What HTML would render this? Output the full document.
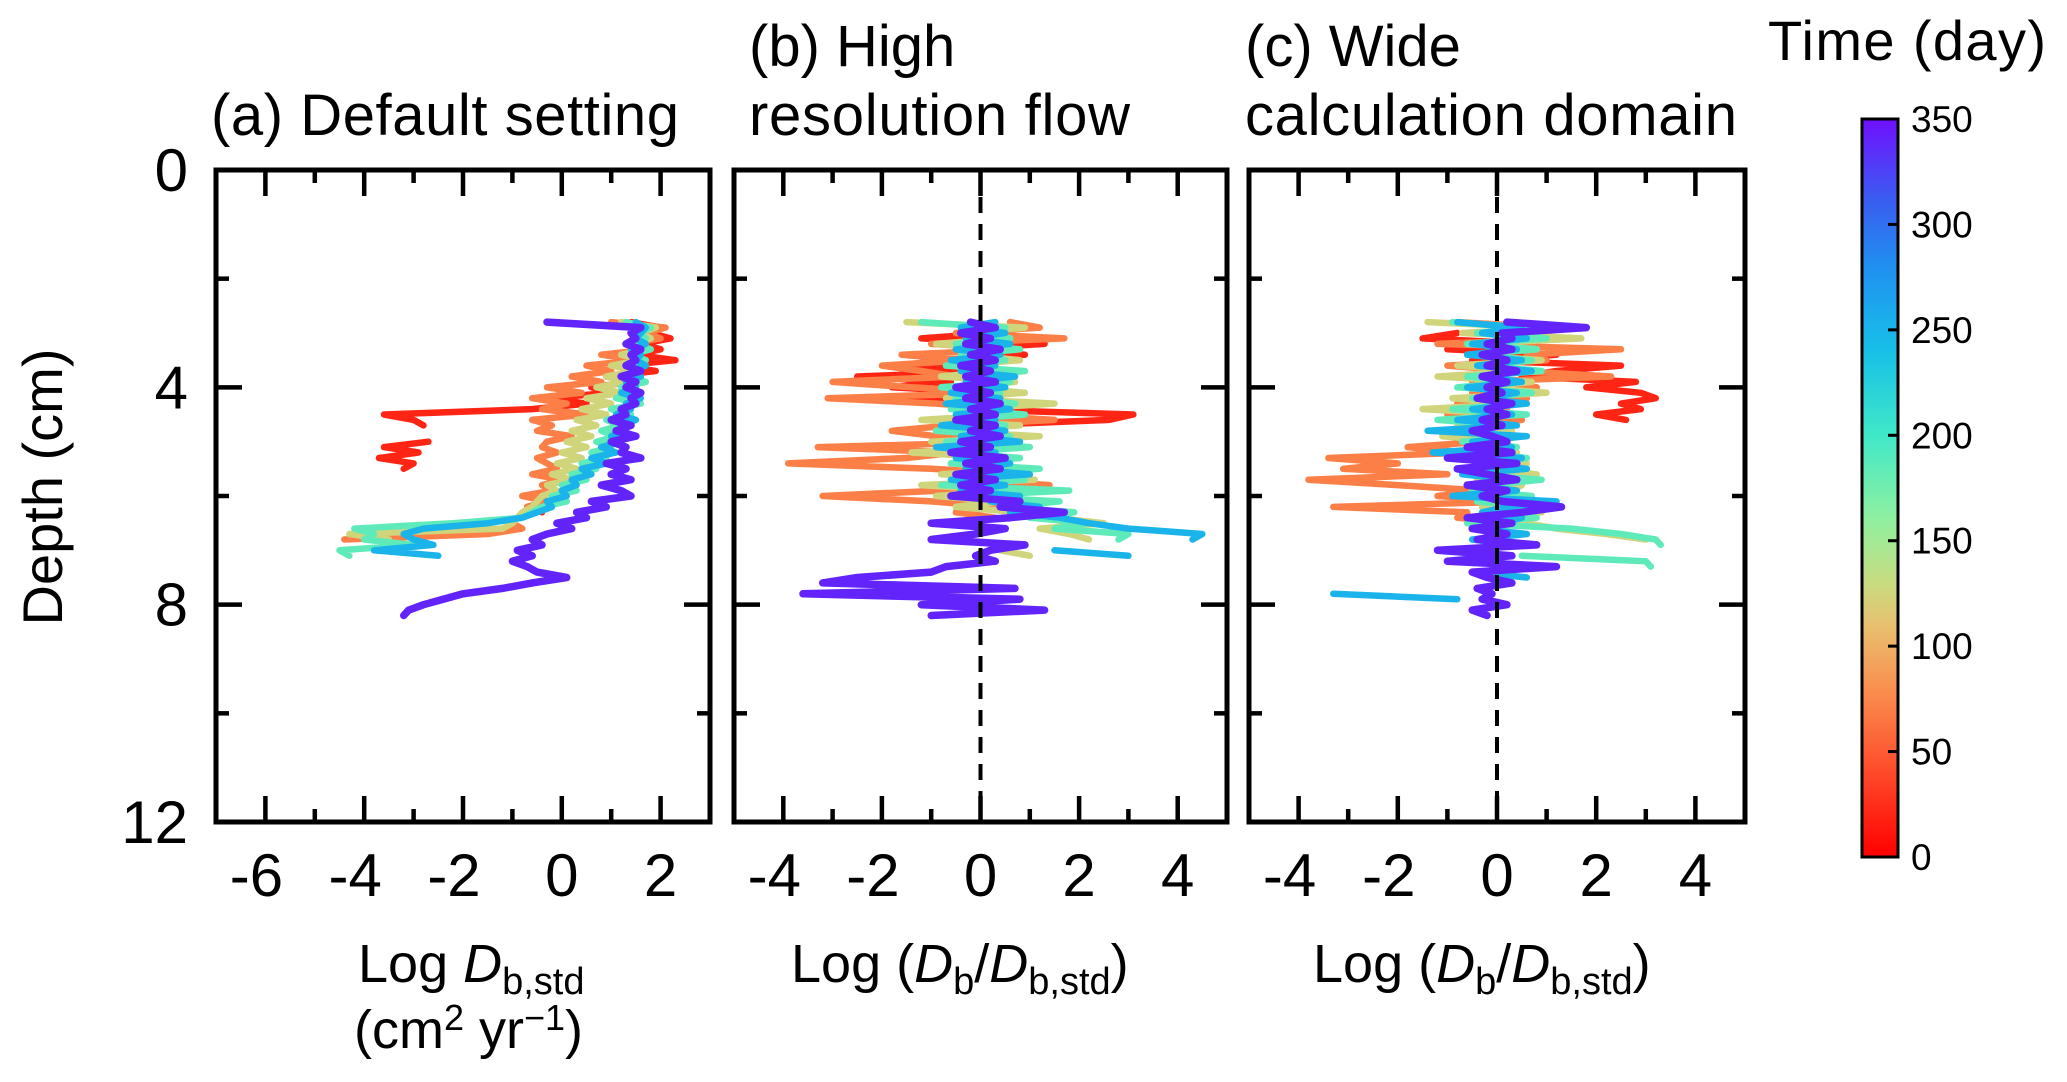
<!DOCTYPE html>
<html><head><meta charset="utf-8"><style>
body{margin:0;background:#fff;}
svg{display:block;font-family:"Liberation Sans",Arial,sans-serif;}
</style></head><body>
<svg id="fig" width="2067" height="1082" viewBox="0 0 2067 1082" xmlns="http://www.w3.org/2000/svg">
<defs>
<linearGradient id="cmap" x1="0" y1="1" x2="0" y2="0"></linearGradient>
</defs>
<g id="root"></g>
</svg>
<script>
const n = null;
const depthStart = 2.8;
const depthStep = 0.1;
const seriesTimes = [20, 70, 125, 185, 250, 340];

const aRed    = [1.4,2.0,1.8,2.2,1.6,2.0,1.5,2.3,1.2,1.9,0.9,1.4,0.6,1.0,-0.3,0.5,-0.6,-3.6,-3.0,-2.8,n,n,-2.7,-3.6,-2.9,-3.7,-3.0,-3.2,n,n,n,n,-0.5,-0.3,-0.7,-0.4,n,n,n,n,n,n,n,n,n,n,n,n,n,n,n,n,n,n,n];
const aOrange = [1.0,2.1,1.7,2.0,1.3,1.8,0.8,1.5,0.5,1.0,0.2,0.8,-0.3,0.4,-0.6,0.1,-0.4,0.5,-0.6,-0.2,-0.5,0.2,-0.3,-0.4,-0.1,-0.5,-0.3,-0.1,-0.6,0.0,-0.4,-0.2,-0.8,-0.3,-0.7,-0.5,-0.9,-1.0,-0.8,-1.5,-4.4,n,n,n,n,n,n,n,n,n,n,n,n,n,n];
const aYellow = [1.2,1.9,1.6,1.8,1.4,1.7,1.2,1.6,1.0,1.5,0.9,1.3,0.7,1.2,0.5,1.0,0.4,0.9,0.3,0.7,0.2,0.6,0.1,0.5,0.0,0.4,-0.1,0.3,-0.2,0.2,-0.3,-0.1,-0.4,-0.5,-0.6,-0.8,-0.9,-1.0,-1.2,-4.3,-3.5,n,n,n,n,n,n,n,n,n,n,n,n,n,n];
const aGreen  = [1.3,1.8,1.6,1.7,1.5,1.8,1.4,1.7,1.3,1.6,1.4,1.7,1.2,1.5,1.1,1.6,1.0,1.4,0.9,1.2,0.8,1.1,0.7,1.0,0.6,0.9,0.4,0.7,0.2,0.5,0.0,0.3,-0.2,0.1,-0.4,-0.6,-0.8,-2.2,-4.2,-3.8,-4.0,-3.0,-4.5,-4.3,n,n,n,n,n,n,n,n,n,n,n];
const aCyan   = [1.5,1.7,1.6,1.5,1.7,1.4,1.6,1.5,1.7,1.4,1.6,1.3,1.5,1.2,1.6,1.3,1.4,1.1,1.5,1.2,1.3,1.0,1.2,0.8,1.1,0.6,0.9,0.4,0.6,0.2,0.3,0.0,0.1,-0.3,-0.2,-0.5,-0.8,-1.5,-2.8,-3.2,-3.0,-2.6,-3.8,-2.5,n,n,n,n,n,n,n,n,n,n,n];
const aPurple = [-0.3,1.6,1.4,1.5,1.3,1.6,1.4,1.5,1.3,1.6,1.2,1.5,1.3,1.6,1.4,1.5,1.2,1.3,1.0,1.4,1.1,1.5,1.0,1.3,1.2,1.6,0.9,1.3,1.0,1.4,0.8,1.2,1.4,0.6,0.9,0.3,0.5,-0.1,0.2,-0.3,-0.6,-0.4,-0.9,-0.6,-1.0,-0.7,-0.5,0.1,-0.6,-1.2,-2.0,-2.4,-2.8,-3.1,-3.2];

const bRed    = [n,n,0.3,-1.2,1.3,-0.5,0.9,-0.8,-1.6,0.4,-2.5,-0.6,-1.8,0.2,-2.2,0.8,-0.4,3.1,2.6,-0.2,n,n,n,n,n,n,n,n,n,n,n,n,n,n,n,n,n,n,n,n,n,n,n,n,n,n,n,n,n,n,n,n,n,n,n];
const bOrange = [0.6,1.2,-0.5,1.7,-1.0,0.8,-1.6,-0.3,-2.0,-1.2,-0.5,-3.0,-1.4,0.4,-3.1,-0.9,0.6,-0.4,1.5,-0.6,-1.8,-0.9,0.8,-3.3,-0.5,-1.5,-3.9,-1.0,0.9,-0.3,1.4,-0.8,-3.2,-1.0,0.4,-0.5,0.3,n,n,n,n,n,n,n,n,n,n,n,n,n,n,n,n,n,n];
const bYellow = [-1.5,0.9,-0.4,0.6,-0.9,0.5,-0.3,0.8,-0.6,0.4,-0.8,0.7,-0.5,0.9,-0.7,1.5,-0.4,0.6,-1.2,0.8,-0.9,1.2,-1.0,0.7,-1.4,0.5,-0.6,0.9,-0.8,1.1,-1.2,0.6,-0.9,0.4,-0.5,0.8,1.5,2.5,1.2,1.8,2.2,n,0.4,1.0,n,n,n,n,n,n,n,n,n,n,n];
const bGreen  = [-1.2,0.5,-0.3,0.6,-0.5,0.8,-0.4,0.5,-0.7,0.9,-0.3,0.6,-0.8,0.4,-0.5,0.7,-0.6,0.9,-0.4,0.5,-0.9,0.6,-0.7,1.0,-0.5,0.8,-0.6,1.2,-0.4,0.9,-0.8,1.8,-0.5,1.6,0.5,1.9,1.0,2.2,1.5,3.0,2.8,n,n,n,n,n,n,n,n,n,n,n,n,n,n];
const bCyan   = [0.3,-0.4,0.5,-0.3,0.6,-0.5,0.4,-0.6,0.3,-0.4,0.7,-0.3,0.5,-0.6,0.4,-0.7,0.6,-0.5,0.3,-0.8,0.5,-0.4,0.8,-0.9,0.3,-0.5,0.6,-0.3,1.0,-0.6,0.5,-0.4,0.8,0.2,1.2,0.6,1.6,2.2,3.0,4.5,4.3,n,1.5,3.0,n,n,n,n,n,n,n,n,n,n,n];
const bPurple = [-0.2,0.3,-0.4,0.2,-0.3,0.4,-0.2,0.3,-0.4,0.2,-0.3,0.3,-0.5,0.2,-0.3,0.4,-0.2,0.3,-0.5,0.3,-0.2,0.4,-0.4,0.2,-0.6,0.5,-0.3,0.4,-0.5,0.3,-0.4,0.2,-0.6,0.8,0.4,1.7,0.6,-1.0,0.5,-0.1,-1.0,0.9,0.2,-0.1,0.3,-0.7,-1.0,-2.5,-3.2,0.7,-3.6,0.8,-1.2,1.3,-1.0];

const cRed    = [n,n,-0.8,-1.5,0.8,-1.0,1.2,-0.5,2.5,1.2,0.5,2.8,1.8,2.9,3.2,2.5,2.9,2.0,2.6,n,n,n,n,n,n,n,n,n,n,n,n,n,n,n,n,n,n,n,n,n,n,n,n,n,n,n,n,n,n,n,n,n,n,n,n];
const cOrange = [-0.8,1.2,-0.5,1.6,-1.2,2.5,0.6,1.0,-1.0,0.4,2.3,-0.5,0.8,-0.5,0.6,-0.8,0.2,-1.0,0.5,-0.4,-1.0,0.5,-0.3,-1.8,-0.6,-3.4,-2.0,-3.1,-1.0,-3.8,-2.0,-0.3,-1.2,0.4,-3.3,-0.6,-0.8,0.2,-0.5,n,n,n,n,n,n,n,n,n,n,n,n,n,n,n,n];
const cYellow = [-1.4,1.0,-0.7,1.7,-0.5,0.8,-0.6,0.9,-0.8,0.6,-1.2,0.7,-0.4,1.0,-0.9,0.5,-1.5,0.4,-0.6,-0.8,0.3,-1.1,0.2,-0.5,0.4,-0.9,0.6,-0.3,0.8,-0.4,0.5,0.3,-0.6,0.7,-0.3,0.9,-0.5,0.6,1.2,2.2,3.0,n,n,n,n,n,n,n,n,n,n,n,n,n,n];
const cGreen  = [-0.9,0.6,-0.4,1.0,-0.6,0.8,-0.5,0.7,-0.3,0.9,-0.6,0.4,-0.8,0.7,-0.5,0.5,-0.9,0.6,-1.2,0.3,-1.0,0.5,-0.7,0.4,-0.5,0.6,-0.4,0.3,-0.6,0.9,-0.2,-0.5,0.7,-0.4,0.6,-0.3,0.8,-0.6,1.5,2.5,3.2,3.3,n,0.5,3.0,3.1,n,n,n,n,n,n,n,n,n];
const cCyan   = [-0.8,0.5,-0.3,0.6,-0.5,0.4,-0.6,0.5,-0.4,0.7,-0.3,0.5,-0.6,0.4,-0.3,0.6,-0.5,0.3,-0.8,0.4,-1.4,0.6,-0.5,0.3,-1.3,0.5,-0.4,0.6,-0.7,0.3,-0.5,0.4,-0.9,1.2,0.2,-0.3,0.5,0.1,-0.4,0.6,-0.5,0.4,-0.7,0.3,-0.6,0.5,-0.4,0.6,n,n,-3.3,-0.8,n,n,n];
const cPurple = [0.2,1.8,0.1,0.3,-0.2,0.3,-0.3,0.2,-0.2,0.4,-0.3,0.2,-0.2,0.1,-0.4,0.3,-0.2,0.2,-0.3,0.1,-0.5,-0.1,0.2,-0.6,0.3,-1.0,0.4,-0.8,-0.2,0.4,-0.6,0.2,-0.3,0.1,1.3,0.5,-0.6,0.3,-0.5,0.2,-0.4,0.8,-1.2,0.3,-1.0,1.2,-0.5,-0.2,0.3,-0.4,-0.1,-0.3,0.2,-0.5,-0.2];

const cbTicks = [0,50,100,150,200,250,300,350];
const depthTicks = [0,2,4,6,8,10,12];
const depthLabels = [0,4,8,12];

const NS = "http://www.w3.org/2000/svg";
const root = document.getElementById("root");
function mk(tag, attrs, parent){ const e=document.createElementNS(NS,tag); for(const k in attrs) e.setAttribute(k,attrs[k]); (parent||root).appendChild(e); return e; }

const cmapStops = [[0,'#ff0000'],[40,'#ff4a2a'],[80,'#f99050'],[110,'#e8c070'],[130,'#c8dc80'],[160,'#90f0a0'],[200,'#40e8c8'],[240,'#18c0e8'],[280,'#2090f0'],[310,'#3860f0'],[350,'#7010ff']];
function hex(h){return [1,3,5].map(i=>parseInt(h.substr(i,2),16));}
function cmap(t){
  for(let i=0;i<cmapStops.length-1;i++){
    const [t0,c0]=cmapStops[i],[t1,c1]=cmapStops[i+1];
    if(t<=t1){const f=(t-t0)/(t1-t0);const a=hex(c0),b=hex(c1);return 'rgb('+a.map((v,j)=>Math.round(v+(b[j]-v)*f)).join(',')+')';}
  }
  return cmapStops[cmapStops.length-1][1];
}

const yTop=170, yBot=822;
function yScale(d){ return yTop + (d/12)*(yBot-yTop); }

const panels = [
  {id:'a', x0:216, x1:710, xmin:-7, xmax:3, labels:[-6,-4,-2,0,2], dashed:false, series:[aRed,aOrange,aYellow,aGreen,aCyan,aPurple]},
  {id:'b', x0:734, x1:1227, xmin:-5, xmax:5, labels:[-4,-2,0,2,4], dashed:true, series:[bRed,bOrange,bYellow,bGreen,bCyan,bPurple]},
  {id:'c', x0:1249, x1:1745, xmin:-5, xmax:5, labels:[-4,-2,0,2,4], dashed:true, series:[cRed,cOrange,cYellow,cGreen,cCyan,cPurple]}
];

panels.forEach(p=>{
  const xs = v => p.x0 + (v-p.xmin)/(p.xmax-p.xmin)*(p.x1-p.x0);
  const g = mk('g',{});
  
  
  const clipId='clip'+p.id;
  const cp=mk('clipPath',{id:clipId},g); mk('rect',{x:p.x0,y:yTop,width:p.x1-p.x0,height:yBot-yTop},cp);
  const sg = mk('g',{'clip-path':'url(#'+clipId+')'},g);
  p.series.forEach((arr,si)=>{
    let d='', pen=false;
    arr.forEach((v,i)=>{
      if(v===null){pen=false;return;}
      const X=xs(v).toFixed(1), Y=yScale(depthStart+i*depthStep).toFixed(1);
      d += (pen?'L':'M')+X+' '+Y+' '; pen=true;
    });
    const path = mk('path',{d:d,fill:'none',stroke:cmap(seriesTimes[si]),'stroke-width':si===5?7.5:6.5,'stroke-linejoin':'round','stroke-linecap':'round'},sg);
    
    
  });
  if(p.dashed){
    const dl=mk('line',{x1:xs(0),x2:xs(0),y1:yTop,y2:yBot,stroke:'#000','stroke-width':4,'stroke-dasharray':'16 11'},g);
    
    
  }
  for(let v=Math.ceil(p.xmin); v<=p.xmax; v++){
    if(v===p.xmin||v===p.xmax) continue;
    const L = (v%2===0)?26:13;
    mk('line',{x1:xs(v),x2:xs(v),y1:yBot,y2:yBot-L,stroke:'#000','stroke-width':4.5},g);
    mk('line',{x1:xs(v),x2:xs(v),y1:yTop,y2:yTop+L,stroke:'#000','stroke-width':4.5},g);
  }
  depthTicks.forEach(dv=>{
    if(dv===0||dv===12) return;
    const L = (dv%4===0)?26:13;
    mk('line',{x1:p.x0,x2:p.x0+L,y1:yScale(dv),y2:yScale(dv),stroke:'#000','stroke-width':4.5},g);
    mk('line',{x1:p.x1,x2:p.x1-L,y1:yScale(dv),y2:yScale(dv),stroke:'#000','stroke-width':4.5},g);
  });
  const fr=mk('rect',{x:p.x0,y:yTop,width:p.x1-p.x0,height:yBot-yTop,fill:'none',stroke:'#000','stroke-width':5},g);
  
  
  p.labels.forEach(v=>{
    const t=mk('text',{x:xs(v)-(v<0?9:0),y:896,'font-size':60,'text-anchor':'middle'},g);
    t.textContent=String(v);
    
    
  });
});

depthLabels.forEach(dv=>{
  const t=mk('text',{x:188,y:yScale(dv)+21,'font-size':60,'text-anchor':'end'});
  t.textContent=String(dv);
  
  
});

const grad=document.getElementById('cmap');
cmapStops.forEach(([t,c])=>{ mk('stop',{offset:(t/350),'stop-color':c},grad); });
const cbx=1862, cbw=36, cbTop=119, cbBot=857;
const cb=mk('rect',{x:cbx,y:cbTop,width:cbw,height:cbBot-cbTop,fill:'url(#cmap)',stroke:'#000','stroke-width':3});


cbTicks.forEach(v=>{
  const y=cbBot-(v/350)*(cbBot-cbTop);
  if(v>0&&v<350) mk('line',{x1:cbx+cbw,x2:cbx+cbw-10,y1:y,y2:y,stroke:'#000','stroke-width':3});
  const t=mk('text',{x:1911,y:y+13,'font-size':37});
  t.textContent=String(v);
  
  
});
</script>
<script>
const fig=document.getElementById('root');
function addText(html,attrs,name){
  const t=document.createElementNS("http://www.w3.org/2000/svg",'text');
  for(const k in attrs) t.setAttribute(k,attrs[k]);
  t.innerHTML=html;
  
  
  fig.appendChild(t);
}
addText('(a) Default setting',{x:211,y:135,'font-size':58,textLength:468},'title-a');
addText('(b) High',{x:749,y:66,'font-size':58},'title-b-line1');
addText('resolution flow',{x:749,y:135,'font-size':58,textLength:381},'title-b-line2');
addText('(c) Wide',{x:1245,y:66,'font-size':58},'title-c-line1');
addText('calculation domain',{x:1245,y:135,'font-size':58,textLength:492},'title-c-line2');
addText('Time (day)',{x:1768,y:60,'font-size':56,textLength:278},'colorbar-title');
addText('Depth (cm)',{x:0,y:0,'font-size':56,'text-anchor':'middle',transform:'translate(62,487) rotate(-90)'},'y-axis-title');
addText('Log <tspan font-style="italic">D</tspan><tspan font-size="38" dy="12">b,std</tspan>',{x:358,y:982,'font-size':54},'x-axis-title-a');
addText('(cm<tspan font-size="36" dy="-18">2</tspan><tspan dy="18"> yr</tspan><tspan font-size="36" dy="-18">−1</tspan><tspan dy="18">)</tspan>',{x:354,y:1048,'font-size':54},'x-axis-unit-a');
addText('Log (<tspan font-style="italic">D</tspan><tspan font-size="38" dy="12">b</tspan><tspan dy="-12">/</tspan><tspan font-style="italic">D</tspan><tspan font-size="38" dy="12">b,std</tspan><tspan dy="-12">)</tspan>',{x:791,y:982,'font-size':54},'x-axis-title-b');
addText('Log (<tspan font-style="italic">D</tspan><tspan font-size="38" dy="12">b</tspan><tspan dy="-12">/</tspan><tspan font-style="italic">D</tspan><tspan font-size="38" dy="12">b,std</tspan><tspan dy="-12">)</tspan>',{x:1313,y:982,'font-size':54},'x-axis-title-c');
</script>
</body></html>
